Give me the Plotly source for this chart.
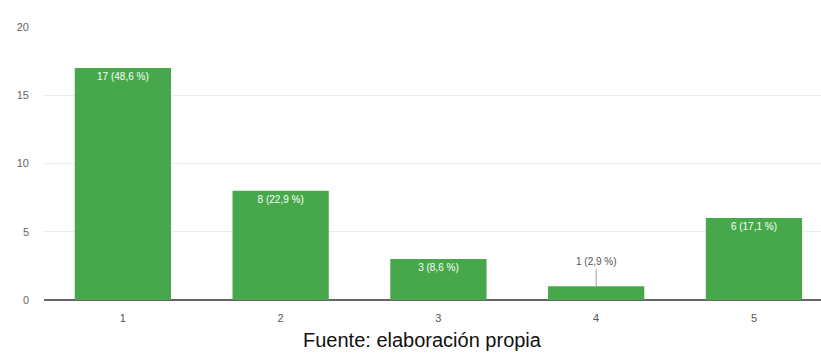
import plotly.graph_objects as go

# Response counts per rating value
categories = [1, 2, 3, 4, 5]
counts = [17, 8, 3, 1, 6]
percents = ["48,6", "22,9", "8,6", "2,9", "17,1"]
y_ticks = [0, 5, 10, 15, 20]

labels = [f"{c} ({p} %)" for c, p in zip(counts, percents)]
# Bars too short to hold their label get it outside, via an annotation
inside = [c >= 3 for c in counts]

green = "#46a84a"
font_family = "Liberation Sans, Arial, sans-serif"

fig = go.Figure()
fig.add_trace(go.Bar(
    x=categories,
    y=counts,
    marker=dict(color=green, line=dict(width=0)),
    text=[t if ok else "" for t, ok in zip(labels, inside)],
    textposition="inside",
    insidetextanchor="end",
    textangle=0,
    textfont=dict(family=font_family, size=10, color="white"),
    cliponaxis=False,
))

for x, y, t, ok in zip(categories, counts, labels, inside):
    if not ok:
        fig.add_annotation(
            x=x, y=y, text=t, showarrow=True, arrowhead=0, arrowwidth=1,
            arrowcolor="#a0a0a0", ax=0, ay=-17, standoff=0,
            font=dict(family=font_family, size=10, color="#555555"),
            yanchor="bottom",
        )

fig.add_annotation(
    text="Fuente: elaboración propia",
    xref="paper", yref="paper", x=0.487, y=-0.10,
    xanchor="center", yanchor="top", showarrow=False,
    font=dict(family=font_family, size=20, color="#111111"),
)

fig.update_layout(
    width=821, height=361,
    margin=dict(l=44, r=0, t=27, b=61),
    paper_bgcolor="white", plot_bgcolor="white",
    bargap=0.39,
    showlegend=False,
    xaxis=dict(
        range=[0.5, 5.425],
        tickmode="array", tickvals=categories, ticktext=[str(c) for c in categories],
        showgrid=False, zeroline=False, showline=False,
        ticks="", ticklabelstandoff=10,
        tickfont=dict(family=font_family, size=11, color="#555555"),
    ),
    yaxis=dict(
        range=[0, 20],
        tickmode="array", tickvals=y_ticks,
        showgrid=True, gridcolor="#ececec", gridwidth=1,
        zeroline=True, zerolinecolor="#666666", zerolinewidth=2,
        showline=False, ticks="",
        tickfont=dict(family=font_family, size=11, color="#666666"),
        ticklabelstandoff=14,
    ),
)

fig.write_html("out.html")
